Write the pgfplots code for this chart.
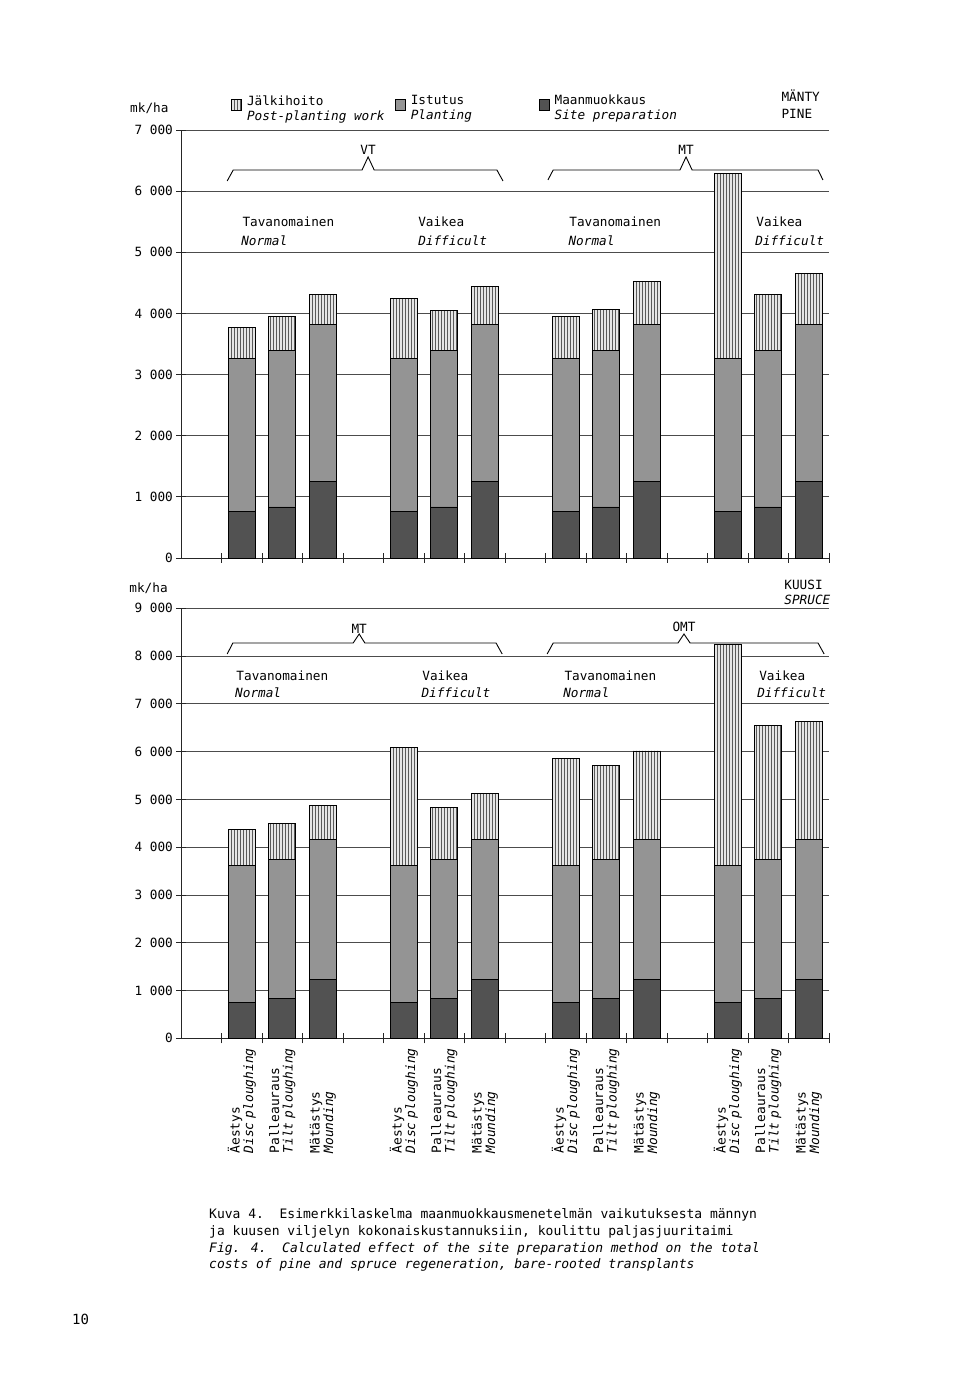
\documentclass[border=0pt]{standalone}
\usepackage{fontspec}
\setmainfont{DejaVu Sans Mono}
\usepackage{pgfplots}
\pgfplotsset{compat=1.18}
\usepackage{pgfplotstable}
\usetikzlibrary{patterns}

\pgfplotstableread{
x site plant post
1.5 765 2500 505
2.5 835 2565 545
3.5 1248 2570 490
5.5 765 2500 975
6.5 835 2565 655
7.5 1248 2570 625
9.5 765 2500 690
10.5 835 2565 665
11.5 1248 2570 700
13.5 765 2500 3020
14.5 835 2565 915
15.5 1248 2570 830
}\pine

\pgfplotstableread{
x site plant post
1.5 750 2870 755
2.5 828 2912 760
3.5 1225 2935 705
5.5 750 2870 2470
6.5 828 2912 1090
7.5 1225 2935 970
9.5 750 2870 2240
10.5 828 2912 1970
11.5 1225 2935 1855
13.5 750 2870 4630
14.5 828 2912 2800
15.5 1225 2935 2470
}\spruce

\pgfplotsset{
  chartbase/.style={
    scale only axis, width=648pt, anchor=south west,
    xmin=0, xmax=16, ymin=0, enlargelimits=false,
    axis lines=left, axis line style={-, line width=0.9pt, black!85},
    ymajorgrids, grid style={line width=0.8pt, black!70},
    xtick={1,...,16}, xticklabels={},
    tick align=center, major tick length=10pt,
    tick style={line width=0.8pt, black!85},
    ybar stacked, bar width=27pt, clip=false,
    yticklabel style={inner sep=0pt, xshift=-3pt},
    /pgf/number format/1000 sep={\ },
    /pgf/number format/assume math mode=true,
  },
  mylegend/.style={legend image code/.code={\draw[##1] (0pt,-2pt) rectangle (10pt,9pt);}},
  sitestyle/.style={fill=black!68, draw=black, line width=0.8pt, mylegend},
  plantstyle/.style={fill=black!42, draw=black, line width=0.8pt, mylegend},
  poststyle/.style={fill=black!10, draw=black, line width=0.8pt,
     postaction={pattern=vertical lines, pattern color=black!65}, mylegend},
}

\newcommand{\lbl}[2]{#1\\\textit{#2}}

\begin{document}
\fontsize{12.7}{16}\selectfont
\begin{tikzpicture}[font=\fontsize{12.7}{16}\selectfont]
\useasboundingbox (0,0) rectangle (960pt,1398pt);
\fill[white] (0,0) rectangle (960pt,1398pt);

% ---------- PINE ----------
\begin{axis}[chartbase,
  at={(181pt,840pt)}, height=428pt, ymax=7000,
  ytick={0,1000,...,7000},
  legend columns=3, reverse legend, legend cell align=left,
  legend style={draw=none, fill=none, inner sep=0pt,
    at={(0.0772,1.0815)}, anchor=north west,
    cells={align=left},
    nodes={inner sep=0pt, font=\fontsize{12.7}{15}\selectfont},
    column sep=0pt,
    /tikz/every odd column/.append style={column sep=5pt}},
]
\addplot[sitestyle] table[x=x,y=site]{\pine};
\addlegendentry{Maanmuokkaus\\\textit{Site preparation}}
\addplot[plantstyle] table[x=x,y=plant]{\pine};
\addlegendentry{\makebox[128pt][l]{Istutus}\\\textit{Planting}}
\addplot[poststyle] table[x=x,y=post]{\pine};
\addlegendentry{\makebox[148pt][l]{Jälkihoito}\\\textit{Post-planting work}}

\node[anchor=base east] at (axis cs:-0.2,7278) {mk/ha};
\node[anchor=base west] at (axis cs:14.72,7458) {MÄNTY};
\node[anchor=base west] at (axis cs:14.72,7196) {PINE};

\draw[line width=0.9pt] (axis cs:1.14,6166) -- (axis cs:1.29,6346) -- (axis cs:4.47,6346)
  -- (axis cs:4.62,6559) -- (axis cs:4.77,6346) -- (axis cs:7.80,6346) -- (axis cs:7.95,6166);
\node[anchor=south, inner sep=1pt] at (axis cs:4.62,6575) {VT};
\draw[line width=0.9pt] (axis cs:9.06,6183) -- (axis cs:9.19,6346) -- (axis cs:12.32,6346)
  -- (axis cs:12.47,6559) -- (axis cs:12.62,6346) -- (axis cs:15.73,6346) -- (axis cs:15.85,6183);
\node[anchor=south, inner sep=1pt] at (axis cs:12.47,6575) {MT};

\node[anchor=base west] at (axis cs:1.41,5414) {Tavanomainen};
\node[anchor=base west] at (axis cs:1.38,5119) {\textit{Normal}};
\node[anchor=base west] at (axis cs:5.75,5414) {Vaikea};
\node[anchor=base west] at (axis cs:5.75,5119) {\textit{Difficult}};
\node[anchor=base west] at (axis cs:9.48,5414) {Tavanomainen};
\node[anchor=base west] at (axis cs:9.46,5119) {\textit{Normal}};
\node[anchor=base west] at (axis cs:14.10,5414) {Vaikea};
\node[anchor=base west] at (axis cs:14.07,5119) {\textit{Difficult}};
\end{axis}

% ---------- SPRUCE ----------
\begin{axis}[chartbase,
  at={(181pt,359.7pt)}, height=430pt, ymax=9000,
  ytick={0,1000,...,9000},
  extra x ticks={1.5,2.5,3.5,5.5,6.5,7.5,9.5,10.5,11.5,13.5,14.5,15.5},
  extra x tick labels={{\lbl{Äestys}{Disc ploughing}},{\lbl{Palleauraus}{Tilt ploughing}},{\lbl{Mätästys}{Mounding}},
    {\lbl{Äestys}{Disc ploughing}},{\lbl{Palleauraus}{Tilt ploughing}},{\lbl{Mätästys}{Mounding}},
    {\lbl{Äestys}{Disc ploughing}},{\lbl{Palleauraus}{Tilt ploughing}},{\lbl{Mätästys}{Mounding}},
    {\lbl{Äestys}{Disc ploughing}},{\lbl{Palleauraus}{Tilt ploughing}},{\lbl{Mätästys}{Mounding}}},
  extra x tick style={tick style={draw=none}},
  xticklabel style={rotate=90, anchor=east, inner xsep=-5pt, inner ysep=0pt,
    text width=115pt, align=left, font=\fontsize{12.9}{13.5}\selectfont},
]
\addplot[sitestyle] table[x=x,y=site]{\spruce};
\addplot[plantstyle] table[x=x,y=plant]{\spruce};
\addplot[poststyle] table[x=x,y=post]{\spruce};

\node[anchor=base east] at (axis cs:-0.22,9341) {mk/ha};
\node[anchor=base west] at (axis cs:14.79,9403) {KUUSI};
\node[anchor=base west] at (axis cs:14.79,9072) {\textit{SPRUCE}};

\draw[line width=0.9pt] (axis cs:1.14,8043) -- (axis cs:1.28,8273) -- (axis cs:4.25,8273)
  -- (axis cs:4.40,8462) -- (axis cs:4.54,8273) -- (axis cs:7.78,8273) -- (axis cs:7.93,8043);
\node[anchor=south, inner sep=1pt] at (axis cs:4.40,8441) {MT};
\draw[line width=0.9pt] (axis cs:9.04,8043) -- (axis cs:9.19,8273) -- (axis cs:12.27,8273)
  -- (axis cs:12.42,8462) -- (axis cs:12.57,8273) -- (axis cs:15.73,8273) -- (axis cs:15.88,8043);
\node[anchor=south, inner sep=1pt] at (axis cs:12.42,8480) {OMT};

\node[anchor=base west] at (axis cs:1.26,7499) {Tavanomainen};
\node[anchor=base west] at (axis cs:1.23,7143) {\textit{Normal}};
\node[anchor=base west] at (axis cs:5.85,7499) {Vaikea};
\node[anchor=base west] at (axis cs:5.83,7143) {\textit{Difficult}};
\node[anchor=base west] at (axis cs:9.36,7499) {Tavanomainen};
\node[anchor=base west] at (axis cs:9.33,7143) {\textit{Normal}};
\node[anchor=base west] at (axis cs:14.17,7499) {Vaikea};
\node[anchor=base west] at (axis cs:14.12,7143) {\textit{Difficult}};
\end{axis}

% ---------- caption ----------
\begin{scope}[every node/.style={anchor=base west, inner sep=0pt, font=\fontsize{13}{16}\selectfont}]
\node at (209pt,179pt) {Kuva 4.\ \ Esimerkkilaskelma maanmuokkausmenetelmän vaikutuksesta männyn};
\node at (209pt,162pt) {ja kuusen viljelyn kokonaiskustannuksiin, koulittu paljasjuuritaimi};
\node at (209pt,145.5pt) {\textit{Fig. 4.\ \ Calculated effect of the site preparation method on the total}};
\node at (209pt,129pt) {\textit{costs of pine and spruce regeneration, bare-rooted transplants}};
\node[font=\fontsize{14}{16}\selectfont] at (72pt,73pt) {10};
\end{scope}
\end{tikzpicture}
\end{document}
